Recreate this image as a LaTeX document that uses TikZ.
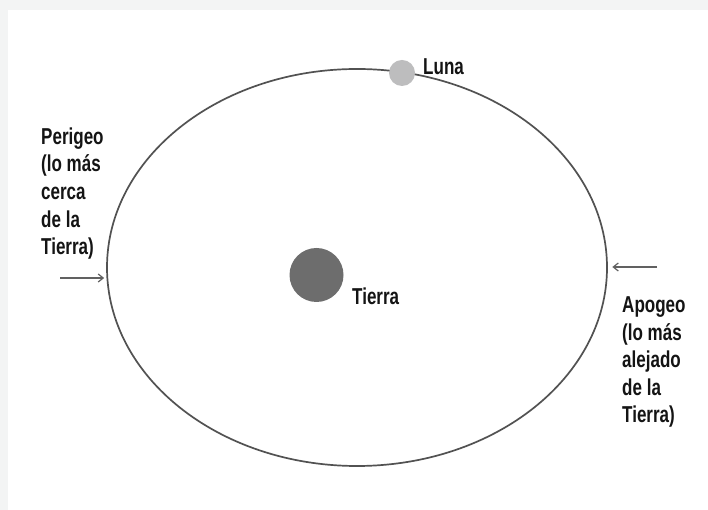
\documentclass[tikz,border=0pt]{standalone}
\usepackage{fontspec}
\setmainfont{Liberation Sans}[FakeStretch=0.74]
\usepackage{tikz}
\usetikzlibrary{shapes.geometric, arrows.meta, positioning}

\definecolor{framegray}{HTML}{F3F4F4}
\definecolor{earthgray}{HTML}{6D6D6D}
\definecolor{moongray}{HTML}{BDBDBE}

\begin{document}
\begin{tikzpicture}[
    x=1pt, y=1pt,
    body/.style={circle, inner sep=0pt, minimum size=#1},
    lbl/.style={font=\fontsize{23}{27.6}\selectfont\bfseries, text=black!92, inner sep=0pt, align=left},
    arr/.style={-{Straight Barb[length=5pt, width=8pt]}, line width=1.2pt, draw=black!62}
]
% Frame
\fill[framegray] (0,0) rectangle (708,510);
\fill[white] (8,0) rectangle (708,500);
\useasboundingbox (0,0) rectangle (708,510);

% Orbit
\node[ellipse, draw=black!68, line width=1.7pt, minimum width=500pt, minimum height=397pt, inner sep=0pt] (orbit) at (357,242.5) {};

% Bodies
\node[body=54pt, fill=earthgray] (tierra) at (316.5,235) {};
\node[body=26pt, fill=moongray]  (luna)   at (402,437) {};

% Labels (base = last line)
\node[lbl, anchor=base west] (tierralbl) at (352,205) {Tierra};
\node[lbl, anchor=base west] (lunalbl)   at (423,435) {Luna};
\node[lbl, anchor=base west] (perigeo)   at (41,255.3) {Perigeo\\(lo más\\cerca\\de la\\Tierra)};
\node[lbl, anchor=base west] (apogeo)    at (622,87) {Apogeo\\(lo más\\alejado\\de la\\Tierra)};

% Arrows
\coordinate (perigeotail) at (60,232);
\coordinate (apogeotail)  at (657,243);
\draw[arr, shorten >=2pt]   (perigeotail) -- (perigeotail -| orbit.west);
\draw[arr, shorten >=4.5pt] (apogeotail)  -- (apogeotail -| orbit.east);
\end{tikzpicture}
\end{document}
